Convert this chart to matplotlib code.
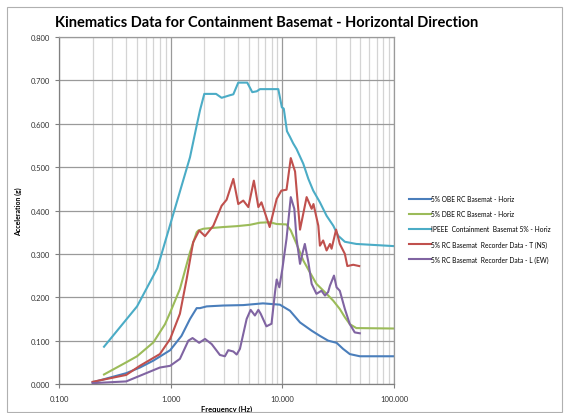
import matplotlib.pyplot as plt
import matplotlib.ticker as ticker
from matplotlib.patches import Rectangle

plt.rcParams['font.family'] = ['Lato', 'DejaVu Sans']

# 5% OBE RC Basemat - Horiz
obe_f = [0.2, 0.4, 0.53, 0.7, 0.99, 1.25, 1.49, 1.71, 1.83, 2.1, 2.96, 4.47, 6.7, 9.5, 11.7,
         14.4, 18.3, 21.7, 25.7, 30.6, 35.0, 40.2, 49.4, 100.0]
obe_g = [0.004, 0.025, 0.038, 0.054, 0.078, 0.111, 0.150, 0.175, 0.175, 0.179, 0.181, 0.182, 0.186,
         0.183, 0.169, 0.142, 0.123, 0.111, 0.100, 0.095, 0.081, 0.069, 0.064, 0.064]

# 5% DBE RC Basemat - Horiz
dbe_f = [0.253, 0.4, 0.5, 0.7, 0.89, 0.99, 1.21, 1.49, 1.71, 1.77, 1.96, 2.4, 2.96, 3.9, 5.1, 6.3,
         7.7, 8.9, 10.9, 11.9, 13.4, 15.4, 17.6, 20.2, 24.9, 28.6, 32.7, 36.3, 40.2, 46.0, 100.0]
dbe_g = [0.022, 0.050, 0.064, 0.096, 0.138, 0.165, 0.219, 0.304, 0.350, 0.354, 0.358, 0.360, 0.362,
         0.364, 0.367, 0.372, 0.373, 0.369, 0.368, 0.354, 0.323, 0.285, 0.258, 0.231, 0.208, 0.192,
         0.173, 0.154, 0.138, 0.129, 0.128]

# IPEEE Containment Basemat 5% - Horiz
ipeee_f = [0.253, 0.5, 0.76, 1.17, 1.49, 1.71, 1.83, 2.0, 2.55, 2.86, 3.4, 3.64, 4.03, 4.85, 5.38,
           5.9, 6.3, 9.2, 9.9, 10.3, 11.0, 11.7, 12.5, 13.4, 15.4, 17.1, 18.9, 21.7, 24.9, 28.6,
           31.6, 36.3, 46.0, 100.0]
ipeee_g = [0.086, 0.179, 0.267, 0.431, 0.523, 0.596, 0.631, 0.669, 0.669, 0.660, 0.666, 0.668,
           0.695, 0.695, 0.673, 0.675, 0.680, 0.680, 0.638, 0.635, 0.583, 0.570, 0.555, 0.542,
           0.508, 0.473, 0.446, 0.419, 0.388, 0.365, 0.342, 0.328, 0.323, 0.318]

# 5% RC Basemat Recorder Data - T (NS)
ns_f = [0.2, 0.4, 0.53, 0.8, 0.99, 1.21, 1.39, 1.59, 1.8, 2.03, 2.41, 2.86, 3.17, 3.64, 4.03,
        4.47, 4.96, 5.56, 6.1, 6.5, 7.7, 8.9, 9.8, 10.9, 11.9, 13.0, 14.4, 16.5, 18.3, 19.0,
        21.0, 21.7, 23.2, 24.9, 26.7, 27.6, 30.3, 32.7, 36.3, 38.2, 43.1, 48.8]
ns_g = [0.005, 0.021, 0.042, 0.069, 0.104, 0.162, 0.242, 0.327, 0.354, 0.341, 0.365, 0.411,
        0.425, 0.473, 0.415, 0.423, 0.408, 0.469, 0.408, 0.419, 0.362, 0.427, 0.446, 0.448,
        0.521, 0.490, 0.356, 0.431, 0.404, 0.415, 0.365, 0.319, 0.331, 0.308, 0.323, 0.312,
        0.356, 0.323, 0.300, 0.272, 0.275, 0.272]

# 5% RC Basemat Recorder Data - L (EW)
ew_f = [0.2, 0.4, 0.53, 0.8, 0.99, 1.21, 1.44, 1.57, 1.8, 2.03, 2.33, 2.76, 3.06, 3.28, 3.64,
        3.9, 4.17, 4.79, 5.2, 5.68, 6.1, 6.4, 7.2, 8.0, 8.6, 8.9, 9.4, 10.0, 10.9, 11.9, 12.8,
        13.4, 14.4, 15.1, 15.9, 17.1, 18.3, 20.2, 22.4, 24.1, 25.7, 26.7, 29.0, 30.6, 32.7,
        36.3, 40.2, 44.5, 49.4]
ew_g = [0.002, 0.006, 0.019, 0.038, 0.042, 0.058, 0.100, 0.106, 0.095, 0.104, 0.092, 0.067,
        0.064, 0.078, 0.075, 0.068, 0.081, 0.150, 0.171, 0.158, 0.171, 0.162, 0.133, 0.139,
        0.212, 0.241, 0.223, 0.265, 0.335, 0.431, 0.404, 0.335, 0.277, 0.300, 0.323, 0.281,
        0.231, 0.208, 0.215, 0.204, 0.212, 0.227, 0.250, 0.223, 0.215, 0.173, 0.138, 0.119,
        0.117]

series = [
    (obe_f, obe_g, '#4A7EBB', '5% OBE RC Basemat - Horiz'),
    (dbe_f, dbe_g, '#9BBB59', '5% DBE RC Basemat - Horiz'),
    (ipeee_f, ipeee_g, '#4BACC6', 'IPEEE  Containment  Basemat 5% - Horiz'),
    (ns_f, ns_g, '#C0504D', '5% RC Basemat  Recorder Data - T (NS)'),
    (ew_f, ew_g, '#8064A2', '5% RC Basemat  Recorder Data - L (EW)'),
]

fig = plt.figure(figsize=(5.64, 4.14), dpi=100)
fig.patches.append(Rectangle((0.012, 0.003), 0.985, 0.978, transform=fig.transFigure,
                             fill=False, edgecolor='#b0b0b0', lw=0.8))
ax = fig.add_axes([0.1046, 0.07, 0.594, 0.838])

for f, g, c, lab in series:
    ax.plot(f, g, color=c, lw=1.5, label=lab)

ax.set_xscale('log')
ax.set_xlim(0.1, 100)
ax.set_ylim(0, 0.8)
ax.yaxis.set_major_locator(ticker.MultipleLocator(0.1))
ax.yaxis.set_major_formatter(ticker.FormatStrFormatter('%.3f'))
ax.xaxis.set_major_locator(ticker.LogLocator(base=10, numticks=10))
ax.xaxis.set_minor_locator(ticker.LogLocator(base=10, subs=range(2, 10), numticks=20))
ax.xaxis.set_major_formatter(ticker.FuncFormatter(lambda v, _: '%.3f' % v))
ax.xaxis.set_minor_formatter(ticker.NullFormatter())

ax.grid(True, which='major', color='#9a9a9a', lw=0.9)
ax.grid(True, which='minor', axis='x', color='#d4d4d4', lw=0.9)
ax.set_axisbelow(True)
for s in ax.spines.values():
    s.set_color('#9a9a9a')
    s.set_linewidth(0.9)
ax.spines['left'].set_color('#808080')
ax.spines['bottom'].set_color('#808080')
ax.tick_params(which='both', length=3, color='#808080', labelsize=5.5, labelcolor='#333333')
ax.tick_params(which='minor', length=0)
ax.tick_params(axis='x', pad=5)

ax.set_xlabel('Frequency (Hz)', fontsize=5.5, fontweight='bold', labelpad=2)
ax.set_ylabel('Acceleration (g)', fontsize=5, fontweight='bold')
ax.yaxis.set_label_coords(-0.11, 0.5)
fig.text(0.472, 0.945, 'Kinematics Data for Containment Basemat - Horizontal Direction',
         ha='center', va='center', fontsize=10.5, fontweight='bold')

fig.legend(loc='upper left', bbox_to_anchor=(0.715, 0.54), frameon=False, fontsize=4.8,
           handlelength=3.2, handletextpad=0.1, labelspacing=1.2)

fig.savefig('out.png', dpi=100)
